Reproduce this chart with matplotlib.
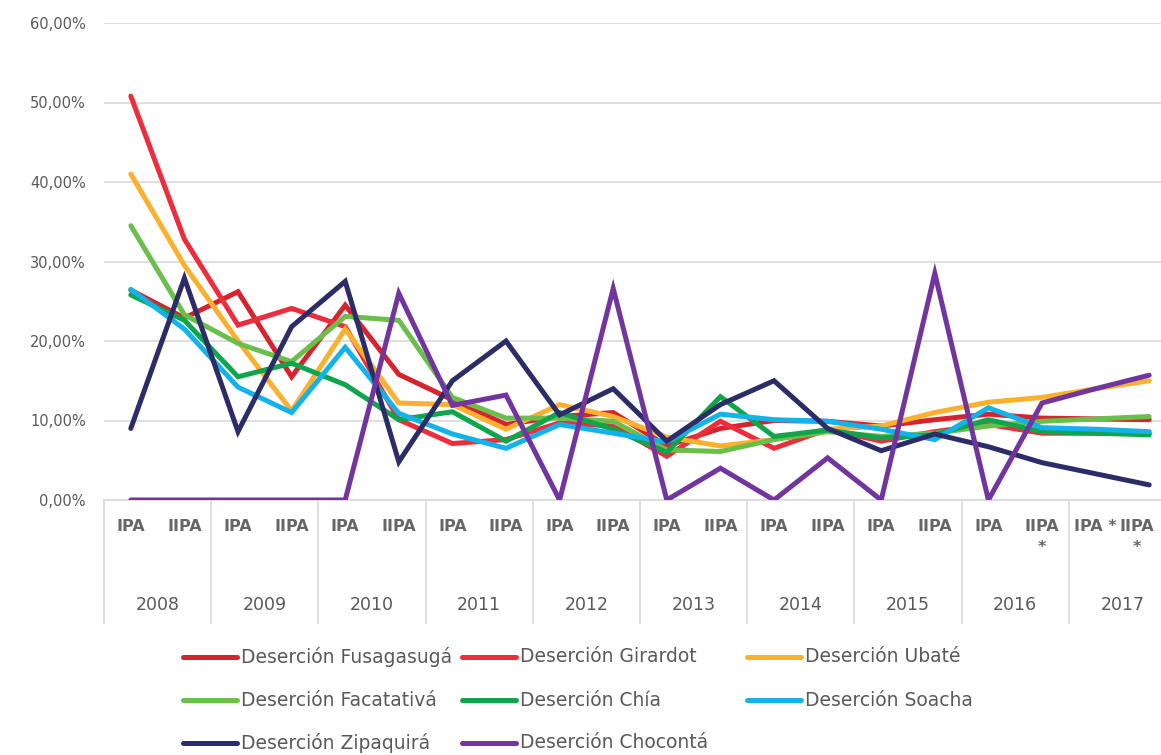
import matplotlib
matplotlib.use("Agg")
import matplotlib.pyplot as plt
from matplotlib.lines import Line2D
from matplotlib.ticker import FuncFormatter
import matplotlib.transforms as mtransforms

plt.rcParams['font.family'] = ['DejaVu Sans']

years = ['2008', '2009', '2010', '2011', '2012', '2013', '2014', '2015', '2016', '2017']
periods = ['IPA', 'IIPA', 'IPA', 'IIPA', 'IPA', 'IIPA', 'IPA', 'IIPA', 'IPA', 'IIPA',
           'IPA', 'IIPA', 'IPA', 'IIPA', 'IPA', 'IIPA', 'IPA', 'IIPA\n*', 'IPA *', 'IIPA\n*']

fusagasuga = [26.4, 22.9, 26.2, 15.5, 24.5, 15.8, 12.6, 9.5, 10.5, 11.0,
              6.8, 9.0, 10.0, 9.9, 9.3, 10.1, 10.8, 10.3, 10.2, 10.1]
girardot = [50.8, 32.8, 22.0, 24.1, 21.8, 10.1, 7.1, 7.6, 9.7, 9.3,
            5.5, 9.9, 6.5, 8.9, 7.4, 8.6, 9.5, 8.4, 8.4, 8.4]
ubate = [41.0, 29.5, 20.0, 11.2, 21.5, 12.2, 12.0, 8.9, 12.0, 10.5,
         7.9, 6.8, 7.6, 8.9, 9.3, 11.0, 12.3, 12.9, 14.0, 15.0]
facatativa = [34.5, 23.3, 19.7, 17.4, 23.1, 22.6, 12.9, 10.3, 10.3, 9.9,
              6.3, 6.1, 7.6, 8.6, 8.0, 8.4, 9.3, 9.9, 10.2, 10.5]
chia = [25.8, 22.6, 15.5, 17.2, 14.5, 10.1, 11.1, 7.4, 11.0, 8.9,
        6.0, 13.0, 8.0, 8.8, 7.8, 8.2, 10.1, 8.6, 8.4, 8.2]
soacha = [26.5, 21.5, 14.2, 11.0, 19.2, 10.9, 8.3, 6.5, 9.5, 8.4,
          7.3, 10.8, 10.1, 9.9, 8.9, 7.6, 11.6, 9.1, 8.9, 8.6]
zipaquira = [9.0, 27.9, 8.6, 21.8, 27.5, 4.8, 15.0, 20.0, 10.7, 14.0,
             7.4, 12.0, 15.0, 9.0, 6.2, 8.3, 6.7, 4.7, 3.3, 1.9]
choconta = [0.0, 0.0, 0.0, 0.0, 0.0, 26.0, 11.9, 13.2, 0.0, 26.6,
            0.0, 4.0, 0.0, 5.3, 0.0, 28.5, 0.0, 12.2, 14.0, 15.7]

series = [
    ('Deserción Fusagasugá', fusagasuga, '#d7232e'),
    ('Deserción Girardot', girardot, '#ee2d3c'),
    ('Deserción Ubaté', ubate, '#fbb12e'),
    ('Deserción Facatativá', facatativa, '#6abf4b'),
    ('Deserción Chía', chia, '#0ea54c'),
    ('Deserción Soacha', soacha, '#12b3ea'),
    ('Deserción Zipaquirá', zipaquira, '#2c2d68'),
    ('Deserción Chocontá', choconta, '#7235a0'),
]

W, H = 1161, 755
fig = plt.figure(figsize=(W / 100, H / 100), dpi=100)
ax_left, ax_right, ax_bottom, ax_top = 104, 1161, 500, 23
ax = fig.add_axes([ax_left / W, 1 - ax_bottom / H, (ax_right - ax_left) / W, (ax_bottom - ax_top) / H])

xs = list(range(len(periods)))
for name, vals, col in series:
    ax.plot(xs, [v / 100 for v in vals], color=col, lw=3.6, solid_capstyle='round',
            solid_joinstyle='miter', label=name, zorder=3)

spacing = 53.6
ax.set_xlim(-0.5, -0.5 + (ax_right - ax_left) / spacing)
ax.set_ylim(0, 0.6)
ax.set_yticks([0, 0.1, 0.2, 0.3, 0.4, 0.5, 0.6])
ax.yaxis.set_major_formatter(FuncFormatter(lambda v, p: f"{v * 100:.2f}%".replace('.', ',')))
ax.grid(axis='y', color='#d9d9d9', lw=1.2, zorder=0)
ax.set_axisbelow(True)
for s in ['top', 'right', 'left']:
    ax.spines[s].set_visible(False)
ax.spines['bottom'].set_color('#d9d9d9')
ax.spines['bottom'].set_linewidth(1.2)
ax.tick_params(axis='y', length=0, pad=13, labelsize=10.5, labelcolor='#595959')

ax.set_xticks(xs)
ax.set_xticklabels(periods, fontsize=11.5, fontweight='bold', color='#666666', linespacing=1.5)
ax.tick_params(axis='x', length=0, pad=14)
last = ax.get_xticklabels()[-1]
last.set_transform(last.get_transform() + mtransforms.ScaledTranslation(-12 / 100, 0, fig.dpi_scale_trans))

trans = mtransforms.blended_transform_factory(ax.transData, ax.transAxes)
sep_depth = 123 / (ax_bottom - ax_top)
for k in range(len(years) + 1):
    ax.plot([-0.5 + 2 * k] * 2, [0, -sep_depth], transform=trans, color='#d9d9d9',
            lw=1.2, clip_on=False)
for k, yr in enumerate(years):
    ax.text(2 * k + 0.5, -105 / (ax_bottom - ax_top), yr, transform=trans, ha='center',
            va='center', fontsize=12.5, color='#595959')

# legend (row-major, 3 columns)
col_x = [183, 462, 747]
row_y = [657, 700, 743]
for i, (name, vals, col) in enumerate(series):
    r, c = divmod(i, 3)
    x0 = col_x[c]
    y0 = 1 - row_y[r] / H
    fig.add_artist(Line2D([x0 / W, (x0 + 54) / W], [y0, y0], color=col, lw=3.6,
                          solid_capstyle='round', transform=fig.transFigure))
    fig.text((x0 + 58) / W, y0, name, fontsize=13.5, color='#595959', va='center', ha='left')

fig.savefig('out.png', dpi=100)
